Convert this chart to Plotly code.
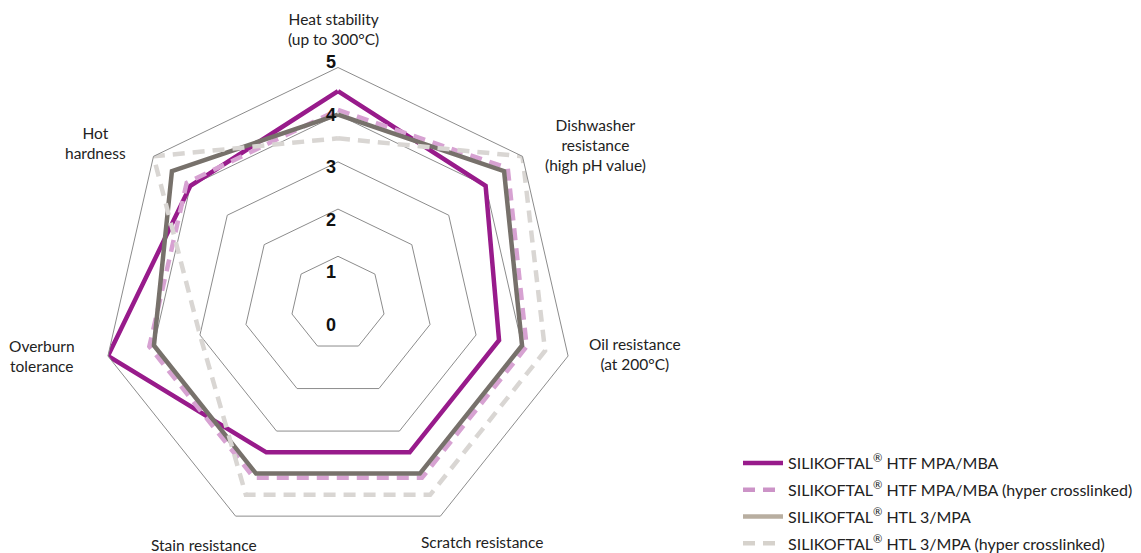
import plotly.graph_objects as go

categories = ["Heat stability", "Dishwasher resistance", "Oil resistance",
              "Scratch resistance", "Stain resistance", "Overburn tolerance", "Hot hardness"]
category_labels = ["Heat stability<br>(up to 300°C)", "Dishwasher<br>resistance<br>(high pH value)",
                   "Oil resistance<br>(at 200°C)", "Scratch resistance", "Stain resistance",
                   "Overburn<br>tolerance", "Hot<br>hardness"]
series_names = ["SILIKOFTAL<sup>®</sup> HTF MPA/MBA",
                "SILIKOFTAL<sup>®</sup> HTF MPA/MBA (hyper crosslinked)",
                "SILIKOFTAL<sup>®</sup> HTL 3/MPA",
                "SILIKOFTAL<sup>®</sup> HTL 3/MPA (hyper crosslinked)"]
htf = [4.5, 4.0, 3.5, 3.5, 3.5, 5.0, 4.0]
htf_hyper = [4.1, 4.6, 4.1, 4.1, 4.1, 4.1, 4.1]
htl = [4.0, 4.5, 4.0, 4.0, 4.0, 4.0, 4.5]
htl_hyper = [3.5, 5.0, 4.5, 4.5, 4.5, 3.0, 5.0]
tick_values = [0, 1, 2, 3, 4, 5]
tick_labels = ["0", "1", "2", "3", "4", "5"]

series = [htf, htf_hyper, htl, htl_hyper]
line_colors = ["#981b8b", "#d7a2d2", "#77716b", "#d9d6d3"]
legend_colors = ["#981b8b", "#cc93c7", "#b8aea0", "#d6d2cc"]
dashes = ["solid", "12px,8px", "solid", "12px,8px"]
widths = [4.5, 4.5, 4.5, 4.5]

fig = go.Figure()
for vals, col, dash, w in zip(series, line_colors, dashes, widths):
    fig.add_trace(go.Scatterpolar(
        r=vals + [vals[0]], theta=categories + [categories[0]], mode="lines",
        line=dict(color=col, width=w, dash=dash), showlegend=False, hoverinfo="skip"))
for i, (name, col, dash) in enumerate(zip(series_names, legend_colors, dashes)):
    fig.add_trace(go.Scatterpolar(
        r=[None], theta=[categories[0]], mode="lines", name=name, legendgroup="g%d" % i,
        line=dict(color=col, width=4.5, dash=dash), showlegend=True))

W, H = 1141, 553
OFF = 8  # default page body margin; positions below are page pixels
def px(x):
    return (x - OFF) / W
def py(y):
    return 1 - (y - OFF) / H

cx, cy, R = 338, 303.5, 236
fig.update_layout(
    width=W, height=H, margin=dict(l=0, r=0, t=0, b=0),
    paper_bgcolor="white", plot_bgcolor="white",
    font=dict(family="Lato", size=16, color="#222222"),
    polar=dict(
        domain=dict(x=[px(cx - R), px(cx + R)], y=[py(cy + R), py(cy - R)]),
        gridshape="linear", bgcolor="white",
        radialaxis=dict(range=[0, 5], tickvals=tick_values[1:], showticklabels=False,
                        showline=False, ticks="", gridcolor="#8c8c8c", gridwidth=1, angle=90),
        angularaxis=dict(rotation=90, direction="clockwise", showgrid=False, showline=True,
                         linecolor="#8c8c8c", linewidth=1, showticklabels=False, ticks=""),
    ),
    legend=dict(x=px(738), xanchor="left", y=py(446), yanchor="top",
                font=dict(family="Lato", size=16, color="#222222"),
                itemwidth=40, tracegroupgap=3, bgcolor="rgba(0,0,0,0)"),
)

# category labels around the chart
label_pos = [(333, 29), (595, 145), (635, 354), (482, 542), (204, 545), (42, 356), (95, 143)]
for txt, (x, y) in zip(category_labels, label_pos):
    fig.add_annotation(text=txt, x=px(x), y=py(y), xref="paper", yref="paper",
                       showarrow=False, xanchor="center", yanchor="middle",
                       font=dict(family="Lato", size=15.5, color="#222222"))

# radial value labels
for i, t in enumerate(tick_labels):
    y = 325 - tick_values[i] * 52.6
    fig.add_annotation(text="<b>" + t + "</b>", x=px(331), y=py(y), xref="paper", yref="paper",
                       showarrow=False, xanchor="center", yanchor="middle",
                       font=dict(family="Liberation Sans", size=18, color="#111111"))

fig.write_html("out.html", config={"displayModeBar": False})
